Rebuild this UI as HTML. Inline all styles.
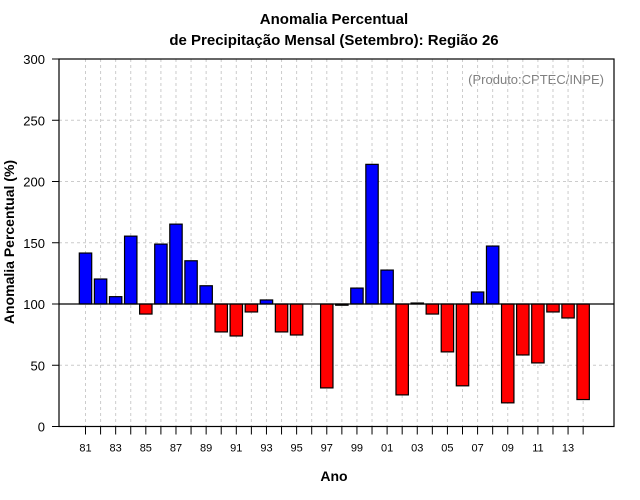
<!DOCTYPE html>
<html><head><meta charset="utf-8"><style>
body{margin:0;background:#fff}
svg{display:block;font-family:"Liberation Sans",sans-serif}
</style></head><body>
<svg id="chart" width="640" height="500">
<text x="334" y="24" text-anchor="middle" font-size="15" font-weight="bold">Anomalia Percentual</text>
<text x="334" y="45" text-anchor="middle" font-size="15" font-weight="bold">de Precipitação Mensal (Setembro): Região 26</text>
<text x="604" y="84" text-anchor="end" font-size="13" fill="#808080">(Produto:CPTEC/INPE)</text>
<text x="334" y="481" text-anchor="middle" font-size="14" font-weight="bold">Ano</text>
<text transform="translate(14,242) rotate(-90)" text-anchor="middle" font-size="14" font-weight="bold">Anomalia Percentual (%)</text>
<g id="grid"></g><g id="bars"></g><g id="axes"></g>
</svg>
<script>
const years=["81","82","83","84","85","86","87","88","89","90","91","92","93","94","95","96","97","98","99","00","01","02","03","04","05","06","07","08","09","10","11","12","13","14"];
const values=[141.6,120.4,106,155.4,91.8,148.9,165.2,135.3,114.9,77.2,73.9,93.5,103.3,77.2,74.7,100,31.5,99,113,214,127.7,25.8,100.8,91.8,60.9,33.2,109.8,147.3,19.3,58.4,51.9,93.5,88.6,22];
const yTicks=[0,50,100,150,200,250,300];
const NS="http://www.w3.org/2000/svg";
const L=59,R=614,T=59,B=426.5,base=100;
const y=v=>B-(v/300)*(B-T);
const x=i=>85.5+i*15.08;
const bw=12.4;
function mk(t,a,p){const e=document.createElementNS(NS,t);for(const k in a)e.setAttribute(k,a[k]);p.appendChild(e);return e;}
const grid=document.getElementById('grid'),bars=document.getElementById('bars'),axes=document.getElementById('axes');
yTicks.forEach(v=>{
 if(v>0&&v<300){const g=mk('line',{x1:L,x2:R,y1:y(v),y2:y(v),stroke:'#ccc','stroke-dasharray':'3,3'},grid);
 
 }
 const tk=mk('line',{x1:L-7,x2:L,y1:y(v),y2:y(v),stroke:'#000'},axes);
 
 
 const t=mk('text',{x:L-14,y:y(v)+5,'text-anchor':'end','font-size':'13'},axes);t.textContent=v;
 
 
});
years.forEach((yr,i)=>{
 const g=mk('line',{x1:x(i),x2:x(i),y1:T,y2:B,stroke:'#ccc','stroke-dasharray':'3,3'},grid);
 
 
 const tk=mk('line',{x1:x(i),x2:x(i),y1:B,y2:B+8,stroke:'#000'},axes);
 
 
 if(i%2===0){const t=mk('text',{x:x(i),y:B+25,'text-anchor':'middle','font-size':'11'},axes);t.textContent=yr;
 
 }
 const v=values[i];
 if(Math.abs(v-base)<0.01)return;
 const top=Math.min(y(v),y(base)),h=Math.abs(y(v)-y(base));
 const r=mk('rect',{x:x(i)-bw/2,y:top,width:bw,height:h,fill:v>=base?'#0000ff':'#ff0000',stroke:'#000','stroke-width':'1.2'},bars);
 
 
});
const bl=mk('line',{x1:L,x2:R,y1:y(base),y2:y(base),stroke:'#000','stroke-width':'1.2'},axes);


const fr=mk('rect',{x:L,y:T,width:R-L,height:B-T,fill:'none',stroke:'#000','stroke-width':'1.2'},axes);


</script>
</body></html>
